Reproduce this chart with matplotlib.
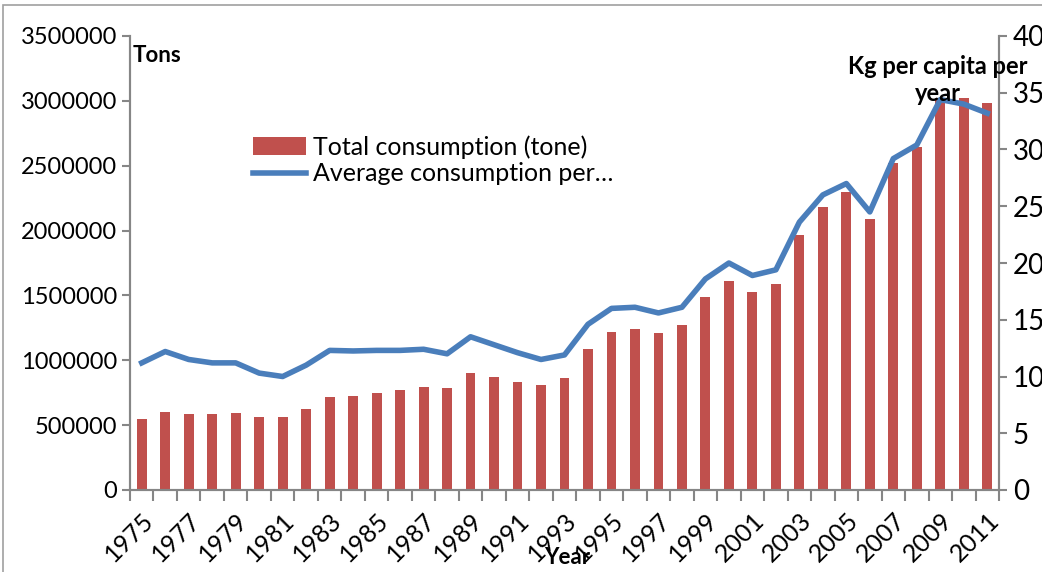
import matplotlib
matplotlib.use("Agg")
import matplotlib.pyplot as plt
import numpy as np
from matplotlib.patches import Rectangle
from matplotlib.ticker import FuncFormatter

plt.rcParams['font.family'] = ['Lato', 'DejaVu Sans']

years = list(range(1975, 2012))
total_tons = [550000, 605000, 585000, 585000, 595000, 565000, 565000, 625000,
              720000, 725000, 750000, 770000, 795000, 785000, 900000, 875000,
              835000, 810000, 865000, 1090000, 1215000, 1245000, 1210000, 1270000,
              1485000, 1610000, 1530000, 1590000, 1965000, 2180000, 2300000, 2090000,
              2520000, 2645000, 3020000, 3020000, 2985000]
kg_per_capita = [11.2, 12.2, 11.5, 11.2, 11.2, 10.3, 10.0, 11.0, 12.3, 12.25, 12.3,
                 12.3, 12.4, 12.0, 13.5, 12.8, 12.1, 11.5, 11.9, 14.6, 16.0, 16.1,
                 15.6, 16.1, 18.6, 20.0, 18.9, 19.4, 23.6, 26.0, 27.0, 24.5, 29.2,
                 30.4, 34.4, 34.0, 33.2]
bar_label = 'Total consumption (tone)'
line_label = 'Average consumption per…'

fig = plt.figure(figsize=(10.42, 5.72), dpi=100)
ax = fig.add_axes([130/1042, 1-490/572, (999-130)/1042, (490-36)/572])
ax2 = ax.twinx()

x = np.arange(len(years))
ax.bar(x, total_tons, width=0.42, color='#C0504D', label=bar_label, zorder=2)
ax2.plot(x, kg_per_capita, color='#4A7EBB', lw=4, label=line_label, zorder=3)

ax.set_xlim(-0.5, len(years) - 0.5)
ax.set_ylim(0, 3500000)
ax.set_yticks(np.arange(0, 3500001, 500000))
ax.yaxis.set_major_formatter(FuncFormatter(lambda v, p: '%d' % v))
ax2.set_ylim(0, 40)
ax2.set_yticks(np.arange(0, 41, 5))

grey = '#868686'
for s in ['left', 'right', 'bottom']:
    ax.spines[s].set_color(grey)
    ax2.spines[s].set_color(grey)
    ax.spines[s].set_linewidth(1.5)
    ax2.spines[s].set_linewidth(1.5)
ax.spines['top'].set_visible(False)
ax2.spines['top'].set_visible(False)

ax.set_xticks(x[::2])
ax.set_xticklabels([str(y) for y in years[::2]], rotation=45, ha='right',
                   va='top', rotation_mode='anchor', fontsize=18)
ax.tick_params(axis='x', which='major', length=0, pad=13)
ax.set_xticks(np.arange(-0.5, len(years)), minor=True)
ax.tick_params(axis='x', which='minor', length=8, color=grey, width=1.5)
ax.tick_params(axis='y', labelsize=17, color=grey, width=1.5, length=6)
ax2.tick_params(axis='y', labelsize=20, color=grey, width=1.5, length=6, pad=4)

fig.text(133/1042, 1-55/572, 'Tons', fontsize=16, fontweight='bold', va='center')
fig.text(938/1042, 1-80/572, 'Kg per capita per\nyear', fontsize=17,
         fontweight='bold', ha='center', va='center', linespacing=1.2)
fig.text(567/1042, 1-558/572, 'Year', fontsize=16, fontweight='bold',
         ha='center', va='center')

h1, l1 = ax.get_legend_handles_labels()
h2, l2 = ax2.get_legend_handles_labels()
fig.legend(h1 + h2, l1 + l2, loc='upper left', bbox_to_anchor=(253/1042, 1-135/572),
           frameon=False, fontsize=18, handlelength=2.1, labelspacing=0.15,
           handletextpad=0.3, borderaxespad=0, borderpad=0)

fig.patches.append(Rectangle((3/1042, -0.01), 1.1, 1-5/572 + 0.01, transform=fig.transFigure,
                             fill=False, edgecolor='#A0A0A0', lw=1.2))

fig.savefig('out.png', dpi=100)
